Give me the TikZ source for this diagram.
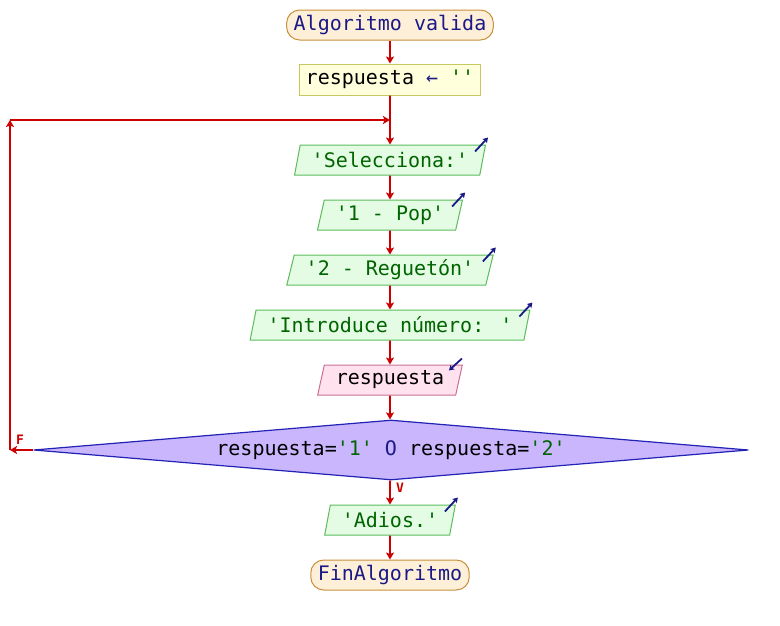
\documentclass[tikz,border=0pt]{standalone}
\usepackage{fontspec}
\newfontfamily\psmono{DejaVu Sans Mono}
\usetikzlibrary{shapes.geometric,arrows.meta,calc}
\definecolor{flowred}{HTML}{CC0000}
\definecolor{navy}{HTML}{1A1A86}
\definecolor{strgreen}{HTML}{006400}
\definecolor{termfill}{HTML}{FEF0D8}
\definecolor{termdraw}{HTML}{C8903A}
\definecolor{asgfill}{HTML}{FFFFDC}
\definecolor{asgdraw}{HTML}{C8C860}
\definecolor{outfill}{HTML}{E4FCE4}
\definecolor{outdraw}{HTML}{5CBC5C}
\definecolor{rdfill}{HTML}{FFE2EE}
\definecolor{rddraw}{HTML}{C87094}
\definecolor{decfill}{HTML}{C9B6FD}
\definecolor{decdraw}{HTML}{2222B4}
\tikzset{
  base/.style={font=\psmono\fontsize{20}{23}\selectfont, line width=1pt, minimum height=30pt, inner ysep=0pt},
  term/.style={base, rectangle, rounded corners=13pt, fill=termfill, draw=termdraw, inner xsep=7pt, text=navy},
  asg/.style={base, rectangle, fill=asgfill, draw=asgdraw, inner xsep=6pt, minimum height=31pt},
  para/.style={base, trapezium, trapezium left angle=70, trapezium right angle=110, trapezium stretches=true, inner xsep=11.5pt},
  outp/.style={para, fill=outfill, draw=outdraw, text=strgreen},
  inp/.style={para, fill=rdfill, draw=rddraw, text=black},
  dec/.style={base, diamond, fill=decfill, draw=decdraw, line width=1.2pt, aspect=11.9, inner sep=0pt, minimum width=715pt, minimum height=60pt},
  flow/.style={draw=flowred, line width=1.8pt, -{Stealth[length=7pt,width=8pt,inset=1.5pt]}},
  icon/.style={draw=navy, line width=1.8pt, -{Stealth[length=5pt,width=6pt,inset=1pt]}},
  lbl/.style={font=\psmono\bfseries\fontsize{13}{14}\selectfont, text=flowred, inner sep=0pt}
}
\begin{document}
\begin{tikzpicture}[x=1pt,y=-1pt]
\useasboundingbox (0,0) rectangle (780,625);
\node[term] (start) at (390,25) {Algoritmo valida};
\node[asg] (asg) at (390,79.5) {respuesta {\color{navy}←} {\color{strgreen}''}};
\node[outp] (o1) at (390,160) {'Selecciona:'};
\node[outp] (o2) at (390,215) {'1 - Pop'};
\node[outp] (o3) at (390,270) {'2 - Reguetón'};
\node[outp] (o4) at (390,325) {'Introduce número: '};
\node[inp] (rd) at (390,380) {respuesta};
\node[dec] (dec) at (391,450) {respuesta={\color{strgreen}'1'} {\color{navy}O} respuesta={\color{strgreen}'2'}};
\node[outp] (o5) at (390,520) {'Adios.'};
\node[term] (fin) at (390,575) {FinAlgoritmo};

\coordinate (cL) at (10,450);
\coordinate (cT) at (10,120);
\coordinate (cJ) at (390,120);

\draw[flow] (start) -- (asg);
\draw[flow] (asg) -- (o1);
\draw[flow] (o1) -- (o2);
\draw[flow] (o2) -- (o3);
\draw[flow] (o3) -- (o4);
\draw[flow] (o4) -- (rd);
\draw[flow] (rd) -- (dec.north -| rd);
\draw[flow] (dec.south -| o5) -- (o5);
\draw[flow] (o5) -- (fin);
\draw[flow] (dec.west) -- (cL);
\draw[flow] (cL) -- (cT);
\draw[flow] (cT) -- (cJ);

\node[lbl] (fl) at (20,440) {F};
\node[lbl] (vl) at (400,488) {V};

\foreach \n in {o1,o2,o3,o4,o5}{
  \draw[icon] ($(\n.top right corner)+(-11,7)$) -- ($(\n.top right corner)+(2,-7)$);
}
\draw[icon] ($(rd.top right corner)+(-1,-6)$) -- ($(rd.top right corner)+(-14,6)$);
\end{tikzpicture}
\end{document}
